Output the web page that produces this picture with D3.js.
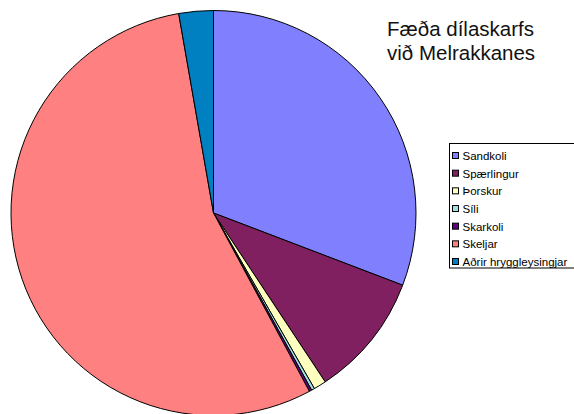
<!DOCTYPE html>
<html>
<head>
<meta charset="utf-8">
<script src="https://cdn.jsdelivr.net/npm/d3@7"></script>
<style>
  html, body { margin: 0; padding: 0; background: #fff; overflow: hidden; }
  svg { display: block; font-family: "Liberation Sans", Arial, sans-serif; }
</style>
</head>
<body>
<svg id="chart" width="574" height="414"></svg>
<script>
// Diet composition of great cormorants at Melrakkanes (percent)
const categories = ["Sandkoli", "Spærlingur", "Þorskur", "Síli", "Skarkoli", "Skeljar", "Aðrir hryggleysingjar"];
const values = [30.8, 9.9, 1.0, 0.25, 0.2, 55.1, 2.75];
const colors = ["#8080FF", "#802060", "#FFFFC0", "#A0E0E0", "#600080", "#FF8080", "#0080C0"];
const titleLines = ["Fæða dílaskarfs", "við Melrakkanes"];

const svg = d3.select("#chart");
const cx = 213.5, cy = 213, radius = 202.5;

const data = categories.map((c, i) => ({ name: c, value: values[i], color: colors[i] }));

const pie = d3.pie().value(d => d.value).sort(null);
const arc = d3.arc().innerRadius(0).outerRadius(radius);

svg.append("g")
  .attr("transform", `translate(${cx},${cy})`)
  .selectAll("path")
  .data(pie(data))
  .join("path")
  .attr("d", arc)
  .attr("fill", d => d.data.color)
  .attr("stroke", "#000")
  .attr("stroke-width", 1)
  .attr("stroke-linejoin", "round");

// Title
svg.append("text")
  .attr("x", 387)
  .attr("y", 36)
  .attr("font-size", 20.5)
  .attr("fill", "#111")
  .selectAll("tspan")
  .data(titleLines)
  .join("tspan")
  .attr("x", 387)
  .attr("dy", (d, i) => i === 0 ? 0 : 24)
  .text(d => d);

// Legend (box runs past the right edge of the page)
const legend = svg.append("g");
legend.append("rect")
  .attr("x", 449.5).attr("y", 143.5)
  .attr("width", 140).attr("height", 124.5)
  .attr("fill", "#fff").attr("stroke", "#000").attr("stroke-width", 1);

const ly = d3.scalePoint().domain(categories).range([156, 262]);
const items = legend.selectAll("g.item")
  .data(data)
  .join("g")
  .attr("class", "item")
  .attr("transform", d => `translate(0,${ly(d.name)})`);

items.append("rect")
  .attr("x", 452.5).attr("y", -3.5)
  .attr("width", 6).attr("height", 6)
  .attr("fill", d => d.color)
  .attr("stroke", "#000").attr("stroke-width", 1);

items.append("text")
  .attr("x", 462.5)
  .attr("y", 4)
  .attr("font-size", 11.5)
  .attr("fill", "#000")
  .text(d => d.name);
</script>
</body>
</html>
